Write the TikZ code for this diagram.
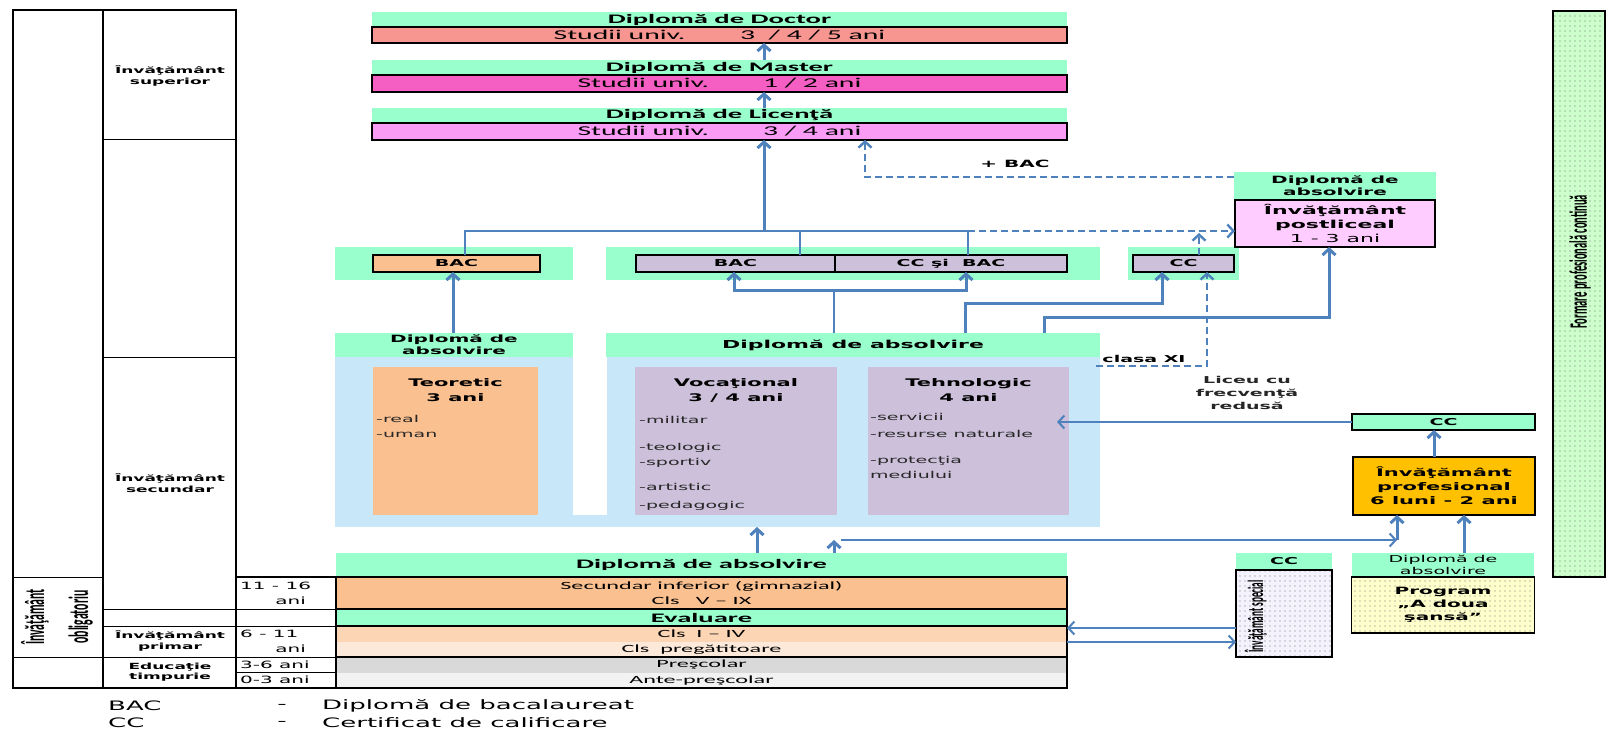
\documentclass[tikz,border=0pt]{standalone}
\usepackage{fontspec}
\setmainfont{Carlito}[FakeStretch=2.2]
\newfontfamily\verdfont{DejaVu Sans}[FakeStretch=2]
\newfontfamily\condfont{Carlito}[FakeStretch=0.42]
\usetikzlibrary{positioning,arrows.meta,patterns.meta}

\definecolor{mint}{RGB}{153,255,204}
\definecolor{orangetan}{RGB}{250,192,144}
\definecolor{peach}{RGB}{252,213,180}
\definecolor{peachlt}{RGB}{253,233,217}
\definecolor{greymid}{RGB}{217,217,217}
\definecolor{greylt}{RGB}{242,242,242}
\definecolor{lilac}{RGB}{204,192,218}
\definecolor{skyblue}{RGB}{200,232,250}
\definecolor{doctorred}{RGB}{247,150,145}
\definecolor{masterpink}{RGB}{245,95,195}
\definecolor{licpink}{RGB}{250,155,245}
\definecolor{postpink}{RGB}{255,204,255}
\definecolor{goldbox}{RGB}{255,192,0}
\definecolor{paleyellow}{RGB}{255,255,204}
\definecolor{palegreen}{RGB}{204,255,204}
\definecolor{palelilac}{RGB}{244,242,252}
\definecolor{linkblue}{RGB}{79,129,189}

\tikzset{
    cell/.style={draw, line width=1.6pt, inner sep=0pt, outer sep=0pt},
    band/.style={fill=mint, inner sep=0pt, outer sep=0pt},
    plain/.style={inner sep=0pt, outer sep=0pt},
    speckle/.style={preaction={fill=#1}, pattern={Dots[distance=5pt,radius=0.55pt]}, pattern color=black!55},
    wire/.style={draw=linkblue, line width=2.4pt},
    link/.style={wire, line width=3pt, ->},
    thinlink/.style={wire, line width=2pt, ->},
    dashlink/.style={wire, dash pattern=on 7pt off 4pt, ->},
    hdrtext/.style={font=\bfseries\fontsize{13}{14}\selectfont},
    studtext/.style={font=\fontsize{13.5}{14}\selectfont},
    rowtext/.style={font=\fontsize{11}{14.5}\selectfont},
    tlabel/.style={align=center, font=\verdfont\bfseries\fontsize{8.5}{10.5}\selectfont},
    agetext/.style={inner sep=0pt, font=\verdfont\fontsize{10}{12}\selectfont},
    bactext/.style={font=\verdfont\bfseries\fontsize{9.5}{11}\selectfont},
    boxtitle/.style={align=center, font=\verdfont\bfseries\fontsize{10.5}{15}\selectfont},
    itemlist/.style={anchor=north west, align=left, inner sep=0pt, text=black!85,
        font=\verdfont\fontsize{9.5}{15}\selectfont},
    legtext/.style={inner sep=0pt, font=\verdfont\fontsize{13}{14}\selectfont}
}

\begin{document}
\begin{tikzpicture}[x=1pt, y=-1pt, >={Straight Barb[length=6pt,width=13pt]}]
    \fill[white] (0,0) rectangle (1608,736);
    \useasboundingbox (0,0) rectangle (1608,736);

    % Left table
    \draw[line width=2pt] (13,10) rectangle (236,688);
    \draw[line width=2pt] (103,10) -- (103,688);
    \draw[line width=1pt] (103,139) -- (236,139) (103,357) -- (236,357)
        (13,577) -- (103,577) (13,657) -- (336,657)
        (103,609) -- (336,609) (103,626) -- (336,626);
    \draw[line width=1.6pt] (236,577) rectangle (336,688);
    \draw[line width=1pt] (236,672) -- (336,672);
    \node[tlabel] (Superior) at (170,76) {Învăţământ\\superior};
    \node[tlabel] (Secundar) at (170,483) {Învăţământ\\secundar};
    \node[tlabel] (Primar) at (170,641) {Învăţământ\\primar};
    \node[tlabel] (Timpurie) at (170,672) {Educaţie\\timpurie};
    \node[rotate=90, align=center, font=\condfont\bfseries\fontsize{28}{44}\selectfont]
        (Oblig) at (57,617) {Învăţământ\\obligatoriu};
    \node[agetext, anchor=west] (AgeGim) at (240,586) {11 - 16};
    \node[agetext, anchor=east] (AgeGimB) at (306,601) {ani};
    \node[agetext, anchor=west] (AgePrim) at (240,634) {6 - 11};
    \node[agetext, anchor=east] (AgePrimB) at (306,649) {ani};
    \node[agetext, anchor=west] (AgePresc) at (240,665) {3-6 ani};
    \node[agetext, anchor=west] (AgeAnte) at (240,680) {0-3 ani};

    % Doctor, Master, Licenta
    \node [band, hdrtext,
        minimum width=695pt,
        minimum height=15pt
    ] (DoctorHdr) at (719.5,19.5) {Diplomă de Doctor};
    \node [cell, studtext, fill=doctorred,
        minimum width=695pt,
        minimum height=16pt,
        below=0pt of DoctorHdr
    ] (Doctor) {Studii univ.\hspace{55pt}3~~/ 4 / 5 ani};
    \node [band, hdrtext,
        minimum width=695pt,
        minimum height=15pt
    ] (MasterHdr) at (719.5,67.5) {Diplomă de Master};
    \node [cell, studtext, fill=masterpink,
        minimum width=695pt,
        minimum height=17pt,
        below=0pt of MasterHdr
    ] (Master) {Studii univ.\hspace{54pt}1 / 2 ani};
    \node [band, hdrtext,
        minimum width=695pt,
        minimum height=15pt
    ] (LicentaHdr) at (719.5,115.5) {Diplomă de Licenţă};
    \node [cell, studtext, fill=licpink,
        minimum width=695pt,
        minimum height=17pt,
        below=0pt of LicentaHdr
    ] (Licenta) {Studii univ.\hspace{54pt}3 / 4 ani};

    % BAC row
    \node [band, minimum width=238pt, minimum height=33pt] (BandT) at (454,263.5) {};
    \node [cell, bactext, fill=orangetan,
        minimum width=167pt,
        minimum height=17pt
    ] (BacT) at (456.5,263.5) {BAC};
    \node [band, minimum width=494pt, minimum height=33pt] (BandV) at (853,263.5) {};
    \node [cell, bactext, fill=lilac,
        minimum width=199pt,
        minimum height=17pt
    ] (BacV) at (735.5,263.5) {BAC};
    \node [cell, bactext, fill=lilac,
        minimum width=232pt,
        minimum height=17pt,
        right=0pt of BacV
    ] (CcBac) {CC şi~~BAC};
    \node [band, minimum width=111pt, minimum height=33pt] (BandC) at (1183.5,263.5) {};
    \node [cell, bactext, fill=lilac,
        minimum width=101pt,
        minimum height=17pt
    ] (CcV) at (1183.5,263.5) {CC};

    % Postliceal
    \node [band, align=center, font=\verdfont\bfseries\fontsize{10}{12}\selectfont,
        minimum width=202pt,
        minimum height=28pt
    ] (PostHdr) at (1335,186) {Diplomă de\\absolvire};
    \node [cell, fill=postpink, align=center, font=\verdfont\fontsize{11}{14}\selectfont,
        minimum width=200pt,
        minimum height=47pt,
        below=0pt of PostHdr
    ] (PostBox) {\textbf{Învăţământ}\\\textbf{postliceal}\\1 - 3 ani};

    % Liceu
    \node [plain, fill=skyblue, minimum width=765pt, minimum height=194pt] (Liceal) at (717.5,430) {};
    \fill[white] (573,333) rectangle (607,515);
    \node [band, align=center, font=\verdfont\bfseries\fontsize{10}{12}\selectfont,
        minimum width=238pt,
        minimum height=24pt
    ] (AbsT) at (454,345) {Diplomă de\\absolvire};
    \node [band, font=\verdfont\bfseries\fontsize{11}{13}\selectfont,
        minimum width=494pt,
        minimum height=24pt
    ] (AbsV) at (853,345) {Diplomă de absolvire};
    \node [plain, fill=orangetan, minimum width=165pt, minimum height=148pt] (Teo) at (455.5,441) {};
    \node [plain, fill=lilac, minimum width=202pt, minimum height=148pt] (Voc) at (736,441) {};
    \node [plain, fill=lilac, minimum width=201pt, minimum height=148pt] (Teh) at (968.5,441) {};
    \node [boxtitle] (TeoTitle) at (455.5,390.5) {Teoretic\\3 ani};
    \node [boxtitle] (VocTitle) at (736,390.5) {Vocaţional\\3 / 4 ani};
    \node [boxtitle] (TehTitle) at (968.5,390.5) {Tehnologic\\4 ani};
    \node [itemlist] (TeoList) at (376,415) {-real\\-uman};
    \node [itemlist] (VocList) at (639,416) {-militar\\[12pt]-teologic\\-sportiv\\[10pt]-artistic\\[3pt]-pedagogic};
    \node [itemlist] (TehList) at (870,413) {-servicii\\[2pt]-resurse naturale\\[11pt]-protecţia\\mediului};

    % Gimnaziu, primar, prescolar
    \node [band, hdrtext,
        minimum width=731pt,
        minimum height=24pt
    ] (AbsB) at (701.5,565) {Diplomă de absolvire};
    \node [cell, rowtext, fill=orangetan, align=center,
        minimum width=731pt,
        minimum height=32pt,
        below=0pt of AbsB
    ] (Gimn) {Secundar inferior (gimnazial)\\Cls~~~V – IX};
    \node [cell, hdrtext, fill=mint,
        minimum width=731pt,
        minimum height=17pt,
        below=0pt of Gimn
    ] (Eval) {Evaluare};
    \node [plain, rowtext, fill=peach,
        minimum width=731pt,
        minimum height=16pt,
        below=0pt of Eval
    ] (ClsPrim) {Cls~~I – IV};
    \node [plain, rowtext, fill=peachlt,
        minimum width=731pt,
        minimum height=15pt,
        below=0pt of ClsPrim
    ] (ClsPreg) {Cls~~pregătitoare};
    \node [plain, rowtext, fill=greymid,
        minimum width=731pt,
        minimum height=16pt,
        below=0pt of ClsPreg
    ] (Presc) {Preşcolar};
    \node [plain, rowtext, fill=greylt,
        minimum width=731pt,
        minimum height=15pt,
        below=0pt of Presc
    ] (Ante) {Ante-preşcolar};
    \draw[line width=1.6pt] (ClsPrim.north west) rectangle (ClsPreg.south east);
    \draw[line width=1.6pt] (Presc.north west) rectangle (Ante.south east);

    % Right side
    \node [cell, fill=mint, bactext,
        minimum width=183pt,
        minimum height=16pt
    ] (CcR) at (1443.5,422) {CC};
    \node [cell, fill=goldbox, align=center, font=\verdfont\bfseries\fontsize{10.5}{14}\selectfont,
        minimum width=182pt,
        minimum height=58pt
    ] (Prof) at (1444,486) {Învăţământ\\profesional\\6 luni - 2 ani};
    \node [band, bactext,
        minimum width=96pt,
        minimum height=17pt
    ] (SpecHdr) at (1284,561.5) {CC};
    \node [cell, speckle=palelilac,
        minimum width=96pt,
        minimum height=87pt,
        below=0pt of SpecHdr
    ] (Spec) {};
    \begin{scope}
        \clip (Spec.south west) rectangle (Spec.north east);
        \node [rotate=90, anchor=west, font=\condfont\bfseries\fontsize{22}{22}\selectfont] (SpecTxt) at (1256,656) {Învăţământ special};
    \end{scope}
    \node [band, align=center, font=\verdfont\fontsize{9.5}{12}\selectfont,
        minimum width=182pt,
        minimum height=24pt
    ] (ProgHdr) at (1443,565) {Diplomă de\\absolvire};
    \node [cell, speckle=paleyellow, align=center, font=\verdfont\bfseries\fontsize{10}{13}\selectfont,
        minimum width=183pt,
        minimum height=56pt,
        below=0pt of ProgHdr
    ] (Prog) {Program\\„A doua\\şansă”};
    \node [cell, line width=2pt, speckle=palegreen,
        minimum width=52pt,
        minimum height=566pt
    ] (Formare) at (1579,294) {};
    \node [rotate=90, font=\condfont\bfseries\fontsize{25}{26}\selectfont] (FormareTxt) at (1580,262) {Formare profesională continuă};

    % Connectors
    \coordinate (Spine) at (764,231);
    \coordinate (DropT) at (465,231);
    \coordinate (DropV) at (800,231);
    \coordinate (DropCB) at (968,231);
    \coordinate (CcDash) at (1199,233);
    \coordinate (PlusBac) at (865,177);
    \coordinate (UpT) at (453,300);
    \coordinate (Fork) at (834,290);
    \coordinate (ForkL) at (734,290);
    \coordinate (ForkR) at (966,290);
    \coordinate (LineA) at (965,303);
    \coordinate (LineAEnd) at (1162,303);
    \coordinate (LineB) at (1044,317);
    \coordinate (LineBEnd) at (1329,317);
    \coordinate (XiStart) at (1096,366);
    \coordinate (XiUp) at (1207,366);
    \coordinate (TehIn) at (1057,422);
    \coordinate (ProfUp) at (1434,440);
    \coordinate (ProgUp) at (1464,540);
    \coordinate (ProfIn) at (1397,540);
    \coordinate (GimUp) at (834,540);
    \coordinate (GimRun) at (841,540);
    \coordinate (LicUp) at (757,540);
    \coordinate (SpecL) at (1150,628);
    \coordinate (SpecR) at (1150,642);

    \draw[link] (Spine |- MasterHdr.north) -- (Spine |- Doctor.south);
    \draw[link] (Spine |- LicentaHdr.north) -- (Spine |- Master.south);
    \draw[link] (Spine) -- (Spine |- Licenta.south);
    \draw[wire] (DropT |- BacT.north) |- (DropCB) -- (DropCB |- CcBac.north);
    \draw[wire] (DropV) -- (DropV |- BacV.north);
    \draw[dashlink] (DropCB) -- (DropCB -| PostBox.west);
    \draw[dashlink] (CcDash |- CcV.north) -- (CcDash);
    \draw[dashlink] (PostHdr.west |- PlusBac) -| (PlusBac |- Licenta.south);
    \draw[link] (UpT |- AbsT.north) -- (UpT |- BacT.south);
    \draw[wire] (Fork |- AbsV.north) -- (Fork);
    \draw[link] (Fork) -| (ForkL |- BacV.south);
    \draw[link] (Fork) -| (ForkR |- CcBac.south);
    \draw[link] (LineA |- AbsV.north) |- (LineAEnd) -- (LineAEnd |- CcV.south);
    \draw[link] (LineB |- AbsV.north) |- (LineBEnd) -- (LineBEnd |- PostBox.south);
    \draw[dashlink] (XiStart) -- (XiUp) -- (XiUp |- CcV.south);
    \draw[thinlink] (CcR.west) -- (TehIn);
    \draw[link] (ProfUp |- Prof.north) -- (ProfUp |- CcR.south);
    \draw[link] (ProgUp |- ProgHdr.north) -- (ProgUp |- Prof.south);
    \draw[link] (GimUp |- AbsB.north) -- (GimUp);
    \draw[thinlink] (GimRun) -- (ProfIn);
    \draw[link] (ProfIn) -- (ProfIn |- Prof.south);
    \draw[link] (LicUp |- AbsB.north) -- (LicUp |- Liceal.south);
    \draw[thinlink] (Spec.west |- SpecL) -- (ClsPrim.east |- SpecL);
    \draw[thinlink] (ClsPrim.east |- SpecR) -- (Spec.west |- SpecR);

    % Labels
    \node [font=\verdfont\bfseries\fontsize{10}{12}\selectfont] (PlusBacLbl) at (1015,164) {+ BAC};
    \node [font=\verdfont\bfseries\fontsize{9.5}{11}\selectfont] (ClasaXI) at (1144,359) {clasa XI};
    \node [align=center, text=black!85, font=\verdfont\bfseries\fontsize{9.5}{13}\selectfont] (Frecv) at (1247,393) {Liceu cu\\frecvenţă\\redusă};

    % Legend
    \node [legtext, anchor=west] (LegBac) at (108,706) {BAC};
    \node [legtext] (LegBacDash) at (282,706) {-};
    \node [legtext, anchor=west] (LegBacTxt) at (322,706) {Diplomă de bacalaureat};
    \node [legtext, anchor=west] (LegCc) at (108,723) {CC};
    \node [legtext] (LegCcDash) at (282,723) {-};
    \node [legtext, anchor=west] (LegCcTxt) at (322,723) {Certificat de calificare};
\end{tikzpicture}
\end{document}
